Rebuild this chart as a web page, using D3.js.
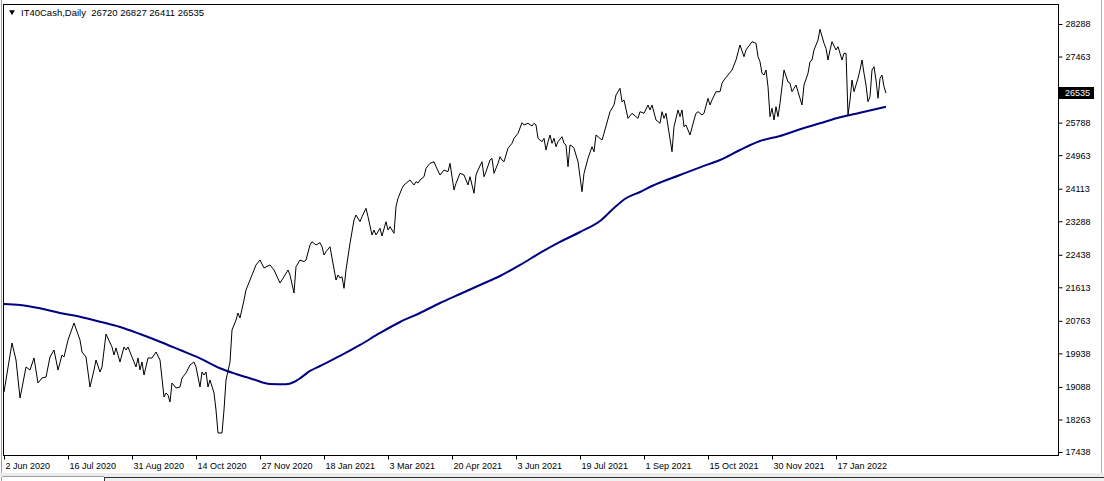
<!DOCTYPE html>
<html>
<head>
<meta charset="utf-8">
<script src="https://cdn.jsdelivr.net/npm/d3@7"></script>
<style>
  html, body { margin: 0; padding: 0; background: #ffffff; }
  svg { display: block; }
  text { font-family: "Liberation Sans", Arial, sans-serif; }
</style>
</head>
<body>
<svg id="chart" width="1104" height="481"></svg>
<script>
// ---------------- data ----------------
const symbolTitle = "IT40Cash,Daily";
const ohlc = [26720, 26827, 26411, 26535];
const lastPrice = 26535;

// bar index (one bar = one trading day) and close value
const closeBars = [0,4,6,8,9,11,13,15,17,19,21,23,25,27,29,30,32,35,38,39,41,43,45,46,48,49,51,54,55,56,58,60,61,62,64,66,67,68,69,70,72,74,76,78,80,81,82,83,84,86,88,89,91,93,95,96,98,99,100,101,102,103,105,106,107,109,110,111,113,114,116,117,118,120,121,123,126,128,130,133,135,138,140,142,143,145,146,148,150,151,153,154,156,158,159,160,161,163,166,167,168,169,170,171,173,175,176,178,179,181,182,184,185,186,188,189,191,192,193,195,196,197,199,200,202,203,205,206,207,208,210,211,213,215,216,218,220,222,223,225,226,228,230,232,233,235,236,237,239,240,241,243,244,245,247,248,249,250,252,254,255,257,259,260,262,264,265,266,267,269,270,271,272,273,274,275,276,277,279,280,281,282,283,284,285,287,289,290,292,294,295,296,299,300,303,305,306,308,309,310,312,314,315,317,318,320,322,323,324,326,328,329,330,331,334,335,337,338,339,340,341,342,343,345,346,347,349,350,352,353,354,356,358,359,360,362,364,366,368,370,371,374,376,377,378,379,380,381,382,383,384,385,386,387,388,389,390,392,393,394,395,396,397,399,400,402,403,404,405,407,408,410,411,412,413,414,416,417,418,419,420,421,422,423,424,425,427,428,429,430,431,432,433,434,435,436,437,438,439,440,441];
const closeVals = [18959,20201,19770,18807,19061,19593,19517,19821,19187,19314,19339,19846,20024,19517,19897,19846,20277,20708,20277,19973,19846,19086,19517,19770,19466,19593,20429,20100,19897,20075,19720,20100,20024,20100,19846,19593,19821,19517,19720,19390,19821,19821,19973,19770,18832,18934,18883,18706,19187,19061,19086,19314,19441,19644,19720,19593,19086,19466,19390,19466,19086,19263,18934,18503,17920,17920,18503,19263,19720,20531,20784,20962,20835,21291,21545,21798,22179,22305,22103,22179,22052,21722,21882,22052,21925,21469,22136,22305,22262,22305,22686,22769,22686,22744,22643,22432,22516,22643,21798,21925,21849,21882,21588,22052,22729,23319,23446,23276,23403,23616,23403,22939,23066,22939,23109,22914,23276,23066,23150,22982,23657,23869,24123,24207,24290,24333,24207,24290,24257,24333,24417,24630,24757,24797,24671,24460,24587,24544,24757,24080,24250,24503,24460,24207,24417,23996,24460,24587,24797,24417,24544,24840,24883,24503,24757,24924,24840,24797,25137,25264,25390,25517,25786,25728,25771,25702,25771,25728,25390,25304,25390,25094,25304,25474,25264,25390,25178,25304,25431,25264,25221,24671,25221,25196,25137,24797,24037,24500,24883,25178,25051,25474,25347,25517,26065,26235,26488,26658,26318,26361,25897,26024,25981,25897,26065,26024,26235,26108,26235,25854,25771,26065,25897,26024,25051,25685,26108,25938,26108,25685,25728,25601,25474,25854,26024,26065,25981,26024,26404,26235,26361,26572,26572,26785,26868,26995,27122,27375,27756,27459,27629,27839,27799,27459,27332,27038,26995,27122,26699,25938,26151,25854,26192,25938,26278,26699,27122,26818,26785,26572,26658,26742,26572,26235,26742,27038,27332,27375,27629,27882,28154,27799,27672,27375,27629,27839,27629,27713,27545,27375,27545,27545,25981,26361,26868,26572,26911,27122,27375,27038,26742,26318,26445,27122,27206,26868,26404,26911,26995,26699,26535];

// moving average (navy line) sampled along the chart
const maBars = [0,8,18,28,38,48,58,68,78,88,98,108,116,125,133,141,145,148,153,158,168,178,188,198,208,218,228,238,248,258,268,278,288,298,305,311,318,324,338,348,358,368,378,388,398,408,418,428,441];
const maVals = [21190,21165,21081,20962,20868,20741,20607,20429,20234,20024,19813,19560,19415,19276,19162,19154,19213,19306,19492,19618,19872,20151,20455,20734,20962,21215,21443,21672,21900,22179,22483,22762,23015,23294,23624,23870,24029,24181,24460,24655,24840,25094,25322,25449,25619,25771,25923,26039,26192];

// axis labels
const priceTicks = [28288,27463,26613,25788,24963,24113,23288,22438,21613,20763,19938,19088,18263,17438];
const dateTickBars = [0,32,64,96,128,160,192,224,256,288,320,352,384,416];
const dateTickLabels = ["2 Jun 2020","16 Jul 2020","31 Aug 2020","14 Oct 2020","27 Nov 2020","18 Jan 2021","3 Mar 2021","20 Apr 2021","3 Jun 2021","19 Jul 2021","1 Sep 2021","15 Oct 2021","30 Nov 2021","17 Jan 2022"];

// ---------------- drawing ----------------
const svg = d3.select("#chart");
const W = 1104, H = 481;
const frame = {left: 3.5, top: 4.5, right: 1058.5, bottom: 455.5};

const x = d3.scaleLinear().domain([0, 441]).range([4, 886]);
const y = d3.scaleLinear().domain([17438, 28288]).range([452, 24]);

svg.append("rect").attr("x", 0).attr("y", 0).attr("width", W).attr("height", H).attr("fill", "#ffffff");

// window edges
svg.append("line").attr("x1", 1.5).attr("x2", 1.5).attr("y1", 0).attr("y2", 481).attr("stroke", "#a0a0a0");
svg.append("line").attr("x1", 1101.5).attr("x2", 1101.5).attr("y1", 0).attr("y2", 476).attr("stroke", "#b4b4b4");
// bottom tab bar
svg.append("rect").attr("x", 0).attr("y", 473).attr("width", W).attr("height", 4).attr("fill", "#ececec");
svg.append("line").attr("x1", 105).attr("x2", W).attr("y1", 477.5).attr("y2", 477.5).attr("stroke", "#303030");
svg.append("rect").attr("x", 105).attr("y", 478).attr("width", W - 105).attr("height", 3).attr("fill", "#f0f0f0");
svg.append("line").attr("x1", 104.5).attr("x2", 104.5).attr("y1", 477).attr("y2", 481).attr("stroke", "#303030");
svg.append("line").attr("x1", 2.5).attr("x2", 104).attr("y1", 476.5).attr("y2", 476.5).attr("stroke", "#a0a0a0");

// chart frame
svg.append("rect")
  .attr("x", frame.left).attr("y", frame.top)
  .attr("width", frame.right - frame.left).attr("height", frame.bottom - frame.top)
  .attr("fill", "#ffffff").attr("stroke", "#000000").attr("stroke-width", 1);

// MA line
const maData = maBars.map((b, i) => [b, maVals[i]]);
svg.append("path").datum(maData)
  .attr("fill", "none").attr("stroke", "#000080").attr("stroke-width", 2)
  .attr("stroke-linejoin", "round")
  .attr("d", d3.line().x(d => x(d[0])).y(d => y(d[1])).curve(d3.curveMonotoneX));

// Price line
const closeData = closeBars.map((b, i) => [b, closeVals[i]]);
svg.append("path").datum(closeData)
  .attr("fill", "none").attr("stroke", "#000000").attr("stroke-width", 1)
  .attr("d", d3.line().x(d => x(d[0])).y(d => y(d[1])));

// right price axis
const yAxis = d3.axisRight(y).tickValues(priceTicks).tickFormat(d3.format("d")).tickSize(4).tickPadding(3);
const gy = svg.append("g").attr("transform", `translate(${frame.right},0)`).call(yAxis);
gy.select(".domain").remove();
gy.selectAll(".tick line").attr("stroke", "#000");
gy.selectAll(".tick text").attr("font-size", 9).attr("fill", "#000")
  .attr("font-family", "Liberation Sans, Arial, sans-serif");

// bottom date axis
const xAxis = d3.axisBottom(x).tickValues(dateTickBars)
  .tickFormat((d, i) => dateTickLabels[i]).tickSize(4).tickPadding(3);
const gx = svg.append("g").attr("transform", `translate(0,${frame.bottom})`).call(xAxis);
gx.select(".domain").remove();
gx.selectAll(".tick line").attr("stroke", "#000");
gx.selectAll(".tick text").attr("font-size", 9).attr("fill", "#000")
  .attr("text-anchor", "start").attr("dx", 1)
  .attr("font-family", "Liberation Sans, Arial, sans-serif");

// current price label
const py = Math.round(y(lastPrice));
svg.append("rect").attr("x", 1059).attr("y", py - 6).attr("width", 35).attr("height", 12).attr("fill", "#000000");
svg.append("text").attr("x", 1065).attr("y", py).attr("dy", "0.35em")
  .attr("font-size", 9).attr("fill", "#ffffff").text(lastPrice);

// title with triangle
svg.append("path").attr("d", d3.symbol().type(d3.symbolTriangle).size(14)())
  .attr("transform", "translate(12,12) rotate(180)").attr("fill", "#000");
svg.append("text").attr("x", 21).attr("y", 16).attr("font-size", 9.5).attr("fill", "#000")
  .attr("xml:space", "preserve")
  .text(symbolTitle + "  " + ohlc.join(" "));
</script>
</body>
</html>
